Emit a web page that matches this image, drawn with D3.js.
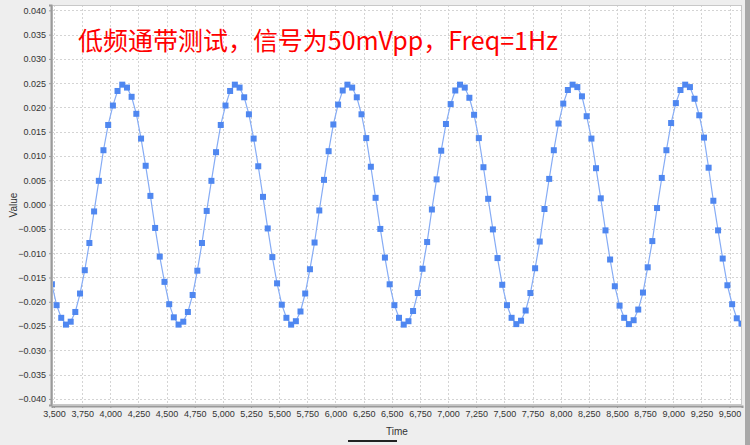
<!DOCTYPE html>
<html><head><meta charset="utf-8">
<script src="https://cdn.jsdelivr.net/npm/d3@7/dist/d3.min.js"></script>
<style>
html,body{margin:0;padding:0;background:#eeeeee;}
svg{display:block;}
</style></head>
<body>
<script>
// ---- data ----
const title = "低频通带测试，信号为50mVpp，Freq=1Hz";
const xLabel = "Time";
const yLabel = "Value";
const xTicks = [3.5,3.75,4.0,4.25,4.5,4.75,5.0,5.25,5.5,5.75,6.0,6.25,6.5,6.75,7.0,7.25,7.5,7.75,8.0,8.25,8.5,8.75,9.0,9.25,9.5];
const yTicks = [-0.04,-0.035,-0.03,-0.025,-0.02,-0.015,-0.01,-0.005,0,0.005,0.01,0.015,0.02,0.025,0.03,0.035,0.04];
const times = [
3.481,3.523,3.564,3.606,3.648,3.689,3.731,3.773,3.814,3.856,3.898,3.939,3.981,4.023,4.064,4.106,4.148,4.189,4.231,4.273,4.314,4.356,4.398,4.439,
4.481,4.523,4.564,4.606,4.648,4.689,4.731,4.773,4.814,4.856,4.898,4.939,4.981,5.023,5.064,5.106,5.148,5.189,5.231,5.273,5.314,5.356,5.398,5.439,
5.481,5.523,5.564,5.606,5.648,5.689,5.731,5.773,5.814,5.856,5.898,5.939,5.981,6.023,6.064,6.106,6.148,6.189,6.231,6.273,6.314,6.356,6.398,6.439,
6.481,6.523,6.564,6.606,6.648,6.689,6.731,6.773,6.814,6.856,6.898,6.939,6.981,7.023,7.064,7.106,7.148,7.189,7.231,7.273,7.314,7.356,7.398,7.439,
7.481,7.523,7.564,7.606,7.648,7.689,7.731,7.773,7.814,7.856,7.898,7.939,7.981,8.023,8.064,8.106,8.148,8.189,8.231,8.273,8.314,8.356,8.398,8.439,
8.481,8.523,8.564,8.606,8.648,8.689,8.731,8.773,8.814,8.856,8.898,8.939,8.981,9.023,9.064,9.106,9.148,9.189,9.231,9.273,9.314,9.356,9.398,9.439,
9.481,9.523,9.564,9.606];
const values = [
-0.0164,-0.0207,-0.0233,-0.0247,-0.0241,-0.0221,-0.0183,-0.0135,-0.0079,-0.0014,0.0049,0.0112,0.0164,0.0204,0.0234,0.0247,0.0241,0.0222,0.0187,0.0136,0.0080,0.0018,-0.0048,-0.0107,
-0.0159,-0.0205,-0.0232,-0.0247,-0.0241,-0.0221,-0.0186,-0.0136,-0.0079,-0.0013,0.0049,0.0108,0.0164,0.0204,0.0234,0.0247,0.0241,0.0221,0.0186,0.0136,0.0079,0.0016,-0.0049,-0.0108,
-0.0162,-0.0206,-0.0233,-0.0247,-0.0240,-0.0220,-0.0183,-0.0133,-0.0078,-0.0012,0.0051,0.0110,0.0165,0.0206,0.0235,0.0247,0.0241,0.0221,0.0186,0.0137,0.0078,0.0014,-0.0050,-0.0109,
-0.0164,-0.0207,-0.0233,-0.0247,-0.0240,-0.0219,-0.0182,-0.0132,-0.0077,-0.0010,0.0052,0.0111,0.0166,0.0207,0.0235,0.0247,0.0241,0.0220,0.0185,0.0137,0.0077,0.0012,-0.0051,-0.0110,
-0.0165,-0.0207,-0.0233,-0.0246,-0.0239,-0.0218,-0.0182,-0.0131,-0.0076,-0.0009,0.0053,0.0112,0.0167,0.0208,0.0236,0.0247,0.0242,0.0223,0.0182,0.0136,0.0075,0.0013,-0.0053,-0.0113,
-0.0168,-0.0208,-0.0233,-0.0246,-0.0238,-0.0216,-0.0181,-0.0129,-0.0075,-0.0007,0.0055,0.0112,0.0168,0.0209,0.0236,0.0247,0.0242,0.0218,0.0184,0.0138,0.0076,0.0008,-0.0053,-0.0111,
-0.0166,-0.0205,-0.0234,-0.0245];

// ---- layout ----
const W = 750, H = 445;
const plot = {left: 52, right: 742, top: 5, bottom: 405};

const svg = d3.select("body").append("svg").attr("width", W).attr("height", H);
svg.append("rect").attr("width", W).attr("height", H).attr("fill", "#eeeeee");

const x = d3.scaleLinear().domain([3.482, 9.6105]).range([plot.left, plot.right]);
const y = d3.scaleLinear().domain([-0.04125, 0.0411]).range([plot.bottom, plot.top]);

// plot background
svg.append("rect").attr("x", plot.left).attr("y", plot.top)
  .attr("width", plot.right - plot.left).attr("height", plot.bottom - plot.top)
  .attr("fill", "#ffffff");

// gridlines
const grid = svg.append("g").attr("stroke", "#d4d4d4").attr("stroke-width", 1).attr("stroke-dasharray", "2,2");
grid.selectAll("line.v").data(xTicks).join("line")
  .attr("x1", d => Math.round(x(d)) + 0.5).attr("x2", d => Math.round(x(d)) + 0.5)
  .attr("y1", plot.top).attr("y2", plot.bottom);
grid.selectAll("line.h").data(yTicks).join("line").attr("class","h")
  .attr("x1", plot.left).attr("x2", plot.right)
  .attr("y1", d => Math.round(y(d)) + 0.5).attr("y2", d => Math.round(y(d)) + 0.5);

// title annotation
svg.append("text").attr("x", 78).attr("y", 50)
  .attr("font-family", "'Noto Sans CJK SC', sans-serif").attr("font-size", 25)
  .attr("fill", "#ff0000").attr("textLength", 480).attr("lengthAdjust", "spacingAndGlyphs")
  .text(title);

// series
const clip = svg.append("clipPath").attr("id", "clip").append("rect")
  .attr("x", plot.left).attr("y", plot.top).attr("width", plot.right - plot.left).attr("height", plot.bottom - plot.top);
const data = times.map((t, i) => ({t, v: values[i]}));
const g = svg.append("g").attr("clip-path", "url(#clip)");
g.append("path").datum(data)
  .attr("fill", "none").attr("stroke", "#86acf5").attr("stroke-width", 1.2)
  .attr("d", d3.line().x(d => x(d.t)).y(d => y(d.v)));
g.selectAll("rect.pt").data(data).join("rect").attr("class", "pt")
  .attr("x", d => x(d.t) - 3).attr("y", d => y(d.v) - 3)
  .attr("width", 6).attr("height", 6).attr("fill", "#4f87f0");

// plot outline
svg.append("rect").attr("x", plot.left + 0.5).attr("y", plot.top + 0.5)
  .attr("width", plot.right - plot.left - 1).attr("height", plot.bottom - plot.top - 1)
  .attr("fill", "none").attr("stroke", "#c8c8c8");

// axes
const fmtX = v => d3.format(".3f")(v).replace(".", ",");
const xAxis = d3.axisBottom(x).tickValues(xTicks).tickFormat(fmtX).tickSize(2).tickPadding(3);
const yAxis = d3.axisLeft(y).tickValues(yTicks).tickFormat(d3.format(".3f")).tickSize(2).tickPadding(3);
const gx = svg.append("g").attr("transform", `translate(0,${plot.bottom + 1})`).call(xAxis);
const gy = svg.append("g").attr("transform", `translate(${plot.left - 1},0)`).call(yAxis);
[gx, gy].forEach(a => {
  a.select(".domain").attr("stroke", "#9a9a9a").attr("stroke-width", 2);
  a.selectAll(".tick line").attr("stroke", "#9a9a9a");
  a.selectAll("text").attr("font-family", "'Liberation Sans', Arial, sans-serif")
    .attr("font-size", 9).attr("fill", "#333333");
});

// axis labels
svg.append("text").attr("x", 397).attr("y", 435).attr("text-anchor", "middle")
  .attr("font-family", "'Liberation Sans', Arial, sans-serif").attr("font-size", 10).attr("fill", "#333")
  .text(xLabel);
svg.append("text").attr("transform", "translate(17,205) rotate(-90)").attr("text-anchor", "middle")
  .attr("font-family", "'Liberation Sans', Arial, sans-serif").attr("font-size", 10).attr("fill", "#333")
  .text(yLabel);

// window frame bits
svg.append("rect").attr("x", 745).attr("y", 0).attr("width", 5).attr("height", H).attr("fill", "#a8a8a8");
svg.append("rect").attr("x", 348).attr("y", 440).attr("width", 49).attr("height", 2).attr("fill", "#222");
</script>
</body></html>
